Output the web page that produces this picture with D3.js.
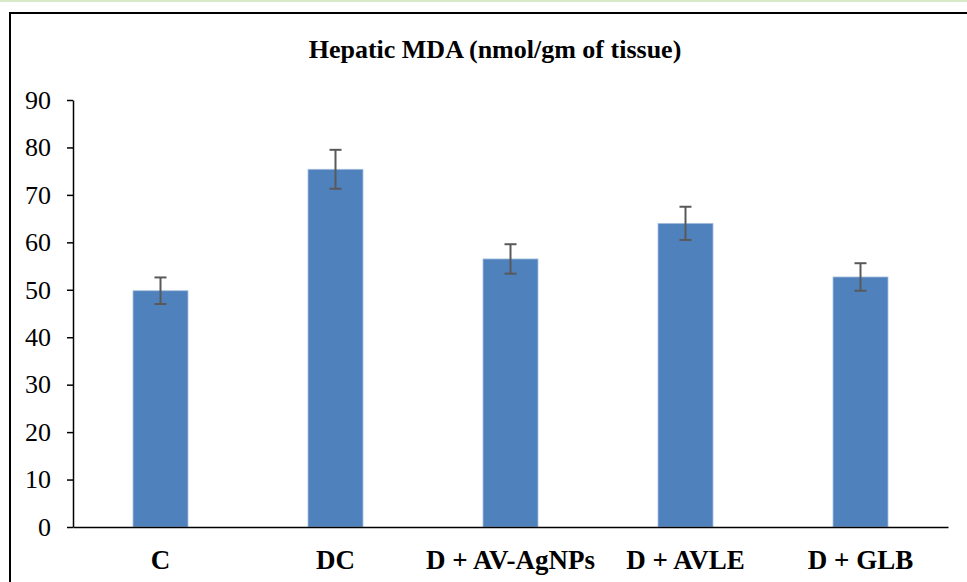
<!DOCTYPE html>
<html>
<head>
<meta charset="utf-8">
<script src="https://cdn.jsdelivr.net/npm/d3@7"></script>
<style>
  body { margin: 0; background: #fff; }
  svg { display: block; }
</style>
</head>
<body>
<svg></svg>
<script>
// data
const groups = ['C', 'DC', 'D + AV-AgNPs', 'D + AVLE', 'D + GLB'];
const mda = [49.8, 75.4, 56.5, 64.0, 52.7];
const errs = [2.8, 4.1, 3.1, 3.5, 2.9];
const yTicks = [0, 10, 20, 30, 40, 50, 60, 70, 80, 90];

const width = 967;
const height = 582;
const plotLeft = 73, plotRight = 948, plotTop = 100, plotBottom = 527;

const svg = d3.select('svg')
    .attr('width', width)
    .attr('height', height)
    .style('font-family', '"Liberation Serif", "Times New Roman", serif')

const xScale = d3.scaleBand()
                    .domain(groups)
                    .range([plotLeft, plotRight])
                    .paddingInner(120 / 175)
                    .paddingOuter(60 / 175)
const yScale = d3.scaleLinear()
                    .domain([0, 90])
                    .range([plotBottom, plotTop])

// light green strip at the very top and the frame
svg.append('rect')
    .attr('x', 0).attr('y', 0)
    .attr('width', width).attr('height', 2)
    .attr('fill', '#d7e9c6')

svg.append('path')
    .attr('d', 'M10,' + (height + 10) + 'V13H' + (width + 10))
    .attr('fill', 'none')
    .attr('stroke', '#000')
    .attr('stroke-width', 2)

// title
svg.append('text')
    .attr('x', 495)
    .attr('y', 58)
    .attr('font-size', '26px')
    .attr('font-weight', 'bold')
    .style('text-anchor', 'middle')
    .text('Hepatic MDA (nmol/gm of tissue)')

// bars
svg.selectAll('rect.bar')
    .data(groups)
    .enter()
    .append('rect')
        .attr('class', 'bar')
        .attr('x', d => xScale(d))
        .attr('y', (d, i) => yScale(mda[i]))
        .attr('width', xScale.bandwidth())
        .attr('height', (d, i) => yScale(0) - yScale(mda[i]))
        .attr('fill', '#4f81bd')
        .attr('stroke', '#a9c0de')
        .attr('stroke-width', 0.8)

// error bars
const errG = svg.selectAll('g.err')
    .data(groups)
    .enter()
    .append('g')
        .attr('class', 'err')
        .attr('stroke', '#595959')
        .attr('stroke-width', 2)
errG.append('line')
    .attr('x1', d => xScale(d) + xScale.bandwidth() / 2)
    .attr('x2', d => xScale(d) + xScale.bandwidth() / 2)
    .attr('y1', (d, i) => yScale(mda[i] + errs[i]))
    .attr('y2', (d, i) => yScale(mda[i] - errs[i]))
errG.selectAll('line.cap')
    .data((d, i) => [mda[i] + errs[i], mda[i] - errs[i]].map(v => ({ g: d, v: v })))
    .enter()
    .append('line')
        .attr('class', 'cap')
        .attr('x1', d => xScale(d.g) + xScale.bandwidth() / 2 - 6)
        .attr('x2', d => xScale(d.g) + xScale.bandwidth() / 2 + 6)
        .attr('y1', d => yScale(d.v))
        .attr('y2', d => yScale(d.v))

// axes
const yAxis = d3.axisLeft(yScale)
                    .tickValues(yTicks)
                    .tickSize(6)
                    .tickPadding(16)
                    .tickSizeOuter(0)
const xAxis = d3.axisBottom(xScale)
                    .tickSize(0)
                    .tickPadding(23)

const gy = svg.append('g')
    .attr('transform', 'translate(' + plotLeft + ',0)')
    .call(yAxis)
gy.select('.domain').attr('stroke', '#000').attr('stroke-width', 1.5)
gy.selectAll('.tick line').attr('stroke', '#000').attr('stroke-width', 1.5)
gy.selectAll('.tick text')
    .attr('font-family', '"Liberation Serif", serif')
    .attr('font-size', '26px')
    .attr('fill', '#000')

const gx = svg.append('g')
    .attr('transform', 'translate(0,' + plotBottom + ')')
    .call(xAxis)
gx.select('.domain').attr('stroke', '#000').attr('stroke-width', 1.5)
gx.selectAll('.tick text')
    .attr('font-family', '"Liberation Serif", serif')
    .attr('font-size', '27px')
    .attr('font-weight', 'bold')
    .attr('fill', '#000')
</script>
</body>
</html>
